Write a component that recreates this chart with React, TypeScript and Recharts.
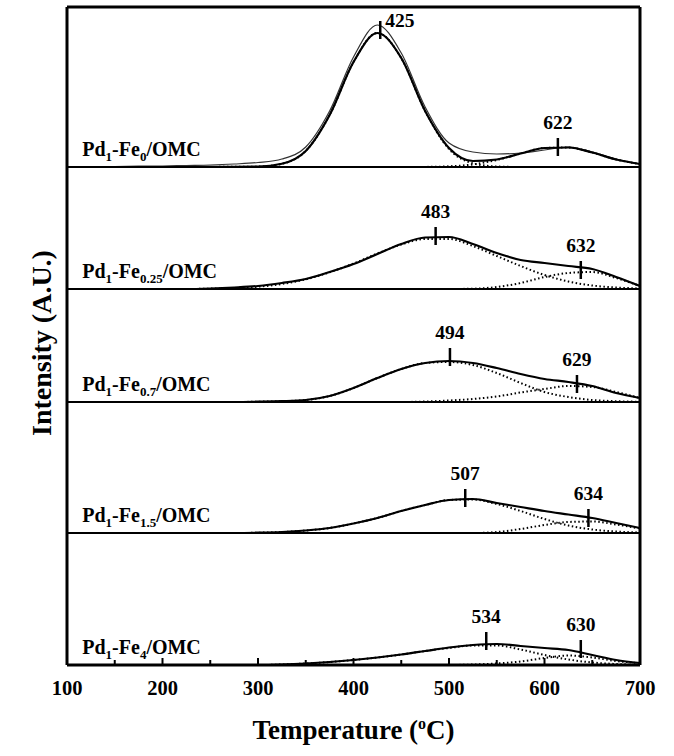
import React from 'react';
import { ComposedChart, Line, Scatter, XAxis, YAxis, ReferenceLine } from 'recharts';

// Temperature grid (°C)
const temps = [100, 125, 150, 175, 200, 225, 250, 275, 300, 325, 350, 375, 400, 425, 450, 475, 500, 525, 550, 575, 600, 625, 650, 675, 700];

// Panel labels (Pd1-Fe_x/OMC) and vertical offsets of each stacked trace (A.U.)
const panelSubs = ['0', '0.25', '0.7', '1.5', '4'];
const panelOffsets = [498, 376, 263, 132, 0];

// Pd1-Fe0/OMC
const p1Exp = [0, 0.3, 0.5, 0.8, 1, 1.5, 2, 3, 4.5, 8, 20, 56, 110, 142, 114, 60, 24, 15, 13, 14, 17, 20, 15, 8, 3];
const p1Fit = [0, 0, 0, 0, 0, 0, 0.1, 0.2, 0.4, 3.2, 16, 52, 105, 134, 109, 56, 19, 6, 7.5, 13.5, 19, 19.5, 14.5, 7.5, 3];
const p1G1 = [0, 0, 0, 0, 0, 0, 0.1, 0.2, 0.4, 3.2, 16, 52, 105, 134, 109, 56, 18, 3.7, 0.5, 0, 0, 0, 0, 0, 0];
const p1G2 = [0, 0, 0, 0, 0, 0, 0, 0, 0, 0, 0, 0, 0, 0, 0, 0.1, 0.7, 2.6, 7, 13.5, 19, 19.5, 14.5, 7.5, 3];

// Pd1-Fe0.25/OMC
const p2Total = [0, 0, 0, 0, 0, 0, 0.5, 1.5, 3, 6, 10, 17, 25, 35, 45, 51.5, 52, 45, 36, 29, 26, 23, 20, 12, 3];
const p2G1 = [0, 0, 0, 0, 0, 0, 0.4, 1, 2.3, 5, 9.7, 16.7, 25.5, 35.5, 44.5, 50, 50, 43, 33, 23, 14, 7.5, 3.5, 1.5, 0.5];
const p2G2 = [0, 0, 0, 0, 0, 0, 0, 0, 0, 0, 0, 0, 0, 0, 0, 0, 0, 0.3, 2, 6, 12, 16, 17, 11, 3];

// Pd1-Fe0.7/OMC
const p3Total = [0, 0, 0, 0, 0, 0, 0, 0, 0.3, 0.8, 2, 6, 14, 24, 33, 39, 41, 39, 34, 28, 23, 20, 16, 9, 4];
const p3G1 = [0, 0, 0, 0, 0, 0, 0, 0, 0.3, 0.8, 2, 6, 14, 24, 33, 39, 40, 37, 29, 19, 10, 5, 2, 0.8, 0.3];
const p3G2 = [0, 0, 0, 0, 0, 0, 0, 0, 0, 0, 0, 0, 0, 0, 0, 0.5, 1.5, 3, 5.5, 9.5, 13, 16, 15, 10, 4];

// Pd1-Fe1.5/OMC
const p4Total = [0, 0, 0, 0, 0, 0, 0, 0, 0.3, 1, 2.5, 5, 9.5, 15, 22, 28, 33, 34, 30, 26, 22, 18.5, 15, 10, 5];
const p4G1 = [0, 0, 0, 0, 0, 0, 0, 0, 0.3, 1, 2.5, 5, 9.5, 15, 22, 28, 33, 33.5, 29, 22, 14, 7.5, 3.5, 1.5, 0.5];
const p4G2 = [0, 0, 0, 0, 0, 0, 0, 0, 0, 0, 0, 0, 0, 0, 0, 0, 0, 0, 1, 4, 8, 11, 11.5, 8.5, 4.5];

// Pd1-Fe4/OMC
const p5Total = [0, 0, 0, 0, 0, 0, 0, 0, 0, 0.5, 1.5, 3, 5, 7.5, 10.5, 14, 17.5, 20, 21, 19, 17, 15, 10, 5, 2];
const p5G1 = [0, 0, 0, 0, 0, 0, 0, 0, 0, 0.5, 1.5, 3, 5, 7.5, 10.5, 14, 17, 19.5, 19.5, 15.5, 10, 5.5, 2.5, 1, 0.3];
const p5G2 = [0, 0, 0, 0, 0, 0, 0, 0, 0, 0, 0, 0, 0, 0, 0, 0, 0, 0.5, 1.5, 3.5, 7, 9.5, 7.5, 4, 1.7];

// Peak markers
const peakPanels = [0, 0, 1, 1, 2, 2, 3, 3, 4, 4];
const peakTemps = [428, 614, 486, 638, 501, 634, 517, 646, 539, 638];
const peakHeights = [137, 20, 53, 19, 45, 18, 35, 15, 24, 16];
const peakLabels = ['425', '622', '483', '632', '494', '629', '507', '634', '534', '630'];

const xTicks = [100, 150, 200, 250, 300, 350, 400, 450, 500, 550, 600, 650, 700];

const FONT = '"Liberation Serif", "Times New Roman", serif';

type Kind = 'exp' | 'fit' | 'comp';
const series: { key: string; panel: number; values: number[]; kind: Kind }[] = [
  { key: 'p1g1', panel: 0, values: p1G1, kind: 'comp' },
  { key: 'p1g2', panel: 0, values: p1G2, kind: 'comp' },
  { key: 'p2g1', panel: 1, values: p2G1, kind: 'comp' },
  { key: 'p2g2', panel: 1, values: p2G2, kind: 'comp' },
  { key: 'p3g1', panel: 2, values: p3G1, kind: 'comp' },
  { key: 'p3g2', panel: 2, values: p3G2, kind: 'comp' },
  { key: 'p4g1', panel: 3, values: p4G1, kind: 'comp' },
  { key: 'p4g2', panel: 3, values: p4G2, kind: 'comp' },
  { key: 'p5g1', panel: 4, values: p5G1, kind: 'comp' },
  { key: 'p5g2', panel: 4, values: p5G2, kind: 'comp' },
  { key: 'p1exp', panel: 0, values: p1Exp, kind: 'exp' },
  { key: 'p1fit', panel: 0, values: p1Fit, kind: 'fit' },
  { key: 'p2t', panel: 1, values: p2Total, kind: 'fit' },
  { key: 'p3t', panel: 2, values: p3Total, kind: 'fit' },
  { key: 'p4t', panel: 3, values: p4Total, kind: 'fit' },
  { key: 'p5t', panel: 4, values: p5Total, kind: 'fit' },
];

const data = temps.map((t, i) => {
  const row: Record<string, number> = { t };
  series.forEach((s) => {
    row[s.key] = s.values[i] + panelOffsets[s.panel];
  });
  return row;
});

const nameData = panelSubs.map((sub, i) => ({ t: 116, v: panelOffsets[i] + 11, sub }));

const peakData = peakTemps.map((t, i) => ({
  t,
  v: peakHeights[i] + panelOffsets[peakPanels[i]],
  label: peakLabels[i],
  side: i === 0,
}));

const renderTick = (props: any) => {
  const { x, y, payload } = props;
  const v = payload.value as number;
  const major = v % 100 === 0;
  return (
    <g>
      <line x1={x} x2={x} y1={y} y2={y - (major ? 7 : 5)} stroke="#000" strokeWidth={2} />
      {major && (
        <text x={x} y={y + 30} textAnchor="middle" fontFamily={FONT} fontWeight="bold" fontSize={20.5} fill="#000">
          {v}
        </text>
      )}
    </g>
  );
};

const renderName = (props: any) => {
  const { cx, cy, payload } = props;
  return (
    <text x={cx} y={cy} fontFamily={FONT} fontWeight="bold" fontSize={20} fill="#000">
      <tspan>Pd</tspan>
      <tspan dy={5} fontSize={13}>1</tspan>
      <tspan dy={-5}>-Fe</tspan>
      <tspan dy={5} fontSize={13}>{payload.sub}</tspan>
      <tspan dy={-5}>/OMC</tspan>
    </text>
  );
};

const renderPeak = (props: any) => {
  const { cx, cy, payload } = props;
  return (
    <g>
      <line x1={cx} x2={cx} y1={cy - 9} y2={cy + 9} stroke="#000" strokeWidth={2.5} />
      {payload.side ? (
        <text x={cx + 5} y={cy - 3} fontFamily={FONT} fontWeight="bold" fontSize={19.5} fill="#000">
          {payload.label}
        </text>
      ) : (
        <text x={cx} y={cy - 18} textAnchor="middle" fontFamily={FONT} fontWeight="bold" fontSize={19.5} fill="#000">
          {payload.label}
        </text>
      )}
    </g>
  );
};

const renderXLabel = (props: any) => {
  const { viewBox } = props;
  const cx = viewBox.x + viewBox.width / 2;
  return (
    <text x={cx} y={viewBox.y + 74} textAnchor="middle" fontFamily={FONT} fontWeight="bold" fontSize={27} fill="#000">
      <tspan>Temperature (</tspan>
      <tspan dy={-10} fontSize={16}>o</tspan>
      <tspan dy={10}>C)</tspan>
    </text>
  );
};

const renderYLabel = (props: any) => {
  const { viewBox } = props;
  const x = 51;
  const y = viewBox.y + viewBox.height / 2 + 7;
  return (
    <text
      x={x}
      y={y}
      transform={`rotate(-90 ${x} ${y})`}
      textAnchor="middle"
      fontFamily={FONT}
      fontWeight="bold"
      fontSize={28}
      fill="#000"
    >
      Intensity (A.U.)
    </text>
  );
};

export default function App() {
  return (
    <div style={{ position: 'absolute', left: 0, top: 0, background: '#fff' }}>
      <ComposedChart width={674} height={756} data={data} margin={{ top: 7, right: 34, left: 7, bottom: 11 }}>
        <XAxis
          dataKey="t"
          type="number"
          domain={[100, 700]}
          ticks={xTicks}
          interval={0}
          tick={renderTick}
          tickLine={false}
          tickSize={0}
          tickMargin={0}
          height={80}
          axisLine={{ stroke: '#000', strokeWidth: 3 }}
          allowDataOverflow
          label={{ content: renderXLabel }}
        />
        <YAxis
          type="number"
          domain={[0, 658]}
          width={60}
          tick={false}
          tickLine={false}
          axisLine={{ stroke: '#000', strokeWidth: 3 }}
          allowDataOverflow
          label={{ content: renderYLabel }}
        />
        <ReferenceLine y={658} stroke="#000" strokeWidth={3} />
        <ReferenceLine x={700} stroke="#000" strokeWidth={3} />
        {panelOffsets.slice(0, 4).map((o) => (
          <ReferenceLine key={o} y={o} stroke="#000" strokeWidth={2} />
        ))}
        {series.map((s) => (
          <Line
            key={s.key}
            dataKey={s.key}
            type="monotone"
            dot={false}
            activeDot={false}
            isAnimationActive={false}
            stroke={s.kind === 'exp' ? '#333' : '#000'}
            strokeWidth={s.kind === 'exp' ? 1.2 : s.kind === 'fit' ? 2.2 : 2}
            strokeDasharray={s.kind === 'comp' ? '1.5 2.5' : undefined}
          />
        ))}
        <Scatter data={nameData} dataKey="v" shape={renderName} isAnimationActive={false} />
        <Scatter data={peakData} dataKey="v" shape={renderPeak} isAnimationActive={false} />
      </ComposedChart>
    </div>
  );
}
